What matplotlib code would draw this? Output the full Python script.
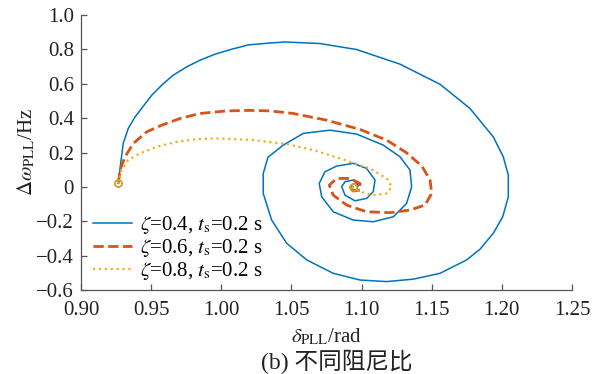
import matplotlib
matplotlib.use('Agg')
import matplotlib.pyplot as plt
from matplotlib.ticker import FuncFormatter, MultipleLocator

plt.rcParams['font.family'] = ['Liberation Serif', 'Noto Sans CJK SC']
plt.rcParams['mathtext.fontset'] = 'stix'
plt.rcParams['axes.unicode_minus'] = True

# zeta = 0.4 trajectory (delta_PLL [rad], delta_omega_PLL [Hz])
z04_x = [0.9266, 0.9283, 0.9301, 0.9337, 0.9385, 0.9440, 0.9504, 0.9587, 0.9658, 0.9753,
         0.9848, 0.9955, 1.0074, 1.0192, 1.0347, 1.0454, 1.0703, 1.0965, 1.1274, 1.1559,
         1.1773, 1.1939, 1.2010, 1.2046, 1.2046, 1.2006, 1.1939, 1.1844, 1.1749, 1.1559,
         1.1368, 1.1179, 1.0989, 1.0798, 1.0609, 1.0466, 1.0359, 1.0299, 1.0299, 1.0333,
         1.0442, 1.0584, 1.0775, 1.0965, 1.1155, 1.1274, 1.1345, 1.1357, 1.1321, 1.1226,
         1.1083, 1.0941, 1.0798, 1.0716, 1.0698, 1.0739, 1.0822, 1.0941, 1.1036, 1.1096,
         1.1083, 1.1036, 1.0953, 1.0882, 1.0858, 1.0882, 1.0941, 1.0976, 1.0965, 1.0932,
         1.0924, 1.0939]
z04_y = [0.020, 0.137, 0.253, 0.340, 0.407, 0.465, 0.533, 0.601, 0.650, 0.698,
         0.737, 0.772, 0.801, 0.826, 0.837, 0.843, 0.834, 0.799, 0.714, 0.597,
         0.456, 0.291, 0.175, 0.069, -0.058, -0.174, -0.270, -0.363, -0.425, -0.503,
         -0.537, -0.551, -0.542, -0.503, -0.425, -0.328, -0.193, -0.038, 0.078, 0.173,
         0.243, 0.311, 0.330, 0.307, 0.243, 0.175, 0.098, 0.001, -0.096, -0.174,
         -0.203, -0.193, -0.145, -0.058, 0.020, 0.088, 0.121, 0.137, 0.107, 0.040,
         -0.028, -0.067, -0.081, -0.048, 0.001, 0.030, 0.040, 0.010, -0.019, -0.013,
         0.005, 0.002]

# zeta = 0.6 trajectory
z06_x = [0.9266, 0.9278, 0.9314, 0.9373, 0.9468, 0.9575, 0.9706, 0.9848, 1.0038, 1.0205,
         1.0347, 1.0513, 1.0751, 1.0989, 1.1179, 1.1321, 1.1430, 1.1488, 1.1500, 1.1452,
         1.1345, 1.1203, 1.1036, 1.0894, 1.0798, 1.0770, 1.0823, 1.0917, 1.0989, 1.0989,
         1.0939, 1.0917, 1.0939]
z06_y = [0.020, 0.098, 0.175, 0.253, 0.320, 0.359, 0.398, 0.427, 0.442, 0.445,
         0.442, 0.427, 0.388, 0.334, 0.272, 0.198, 0.121, 0.040, -0.038, -0.106,
         -0.135, -0.150, -0.145, -0.106, -0.048, 0.010, 0.049, 0.049, 0.020, -0.019,
         -0.024, 0.000, 0.002]

# zeta = 0.8 trajectory
z08_x = [0.9266, 0.9290, 0.9337, 0.9421, 0.9540, 0.9682, 0.9825, 0.9955, 1.0086, 1.0228,
         1.0466, 1.0656, 1.0846, 1.1060, 1.1179, 1.1215, 1.1179, 1.1083, 1.0989, 1.0917,
         1.0939]
z08_y = [0.020, 0.098, 0.156, 0.195, 0.233, 0.262, 0.278, 0.282, 0.278, 0.272,
         0.249, 0.214, 0.166, 0.107, 0.049, 0.001, -0.038, -0.048, -0.028, 0.001,
         0.002]

labels = [r'$\zeta$=0.4, $t_{\rm s}$=0.2 s',
          r'$\zeta$=0.6, $t_{\rm s}$=0.2 s',
          r'$\zeta$=0.8, $t_{\rm s}$=0.2 s']
colors = ['#0072BD', '#D95319', '#EDB120']
styles = ['-', '--', ':']
widths = [1.1, 2.0, 1.6]

FS = 15

fig = plt.figure(figsize=(6.01, 3.74), dpi=100)
ax = fig.add_axes([81/601, 1-290/374, 491/601, 275/374])

series = [(z04_x, z04_y), (z06_x, z06_y), (z08_x, z08_y)]
for (xs, ys), lab, c, ls, lw in zip(series, labels, colors, styles, widths):
    ax.plot(xs, ys, ls=ls, color=c, lw=lw, label=lab)
for (xs, ys), c in zip(series, colors):
    ax.plot([xs[0], xs[-1]], [ys[0], ys[-1]], 'o', mfc='none', mec=c, ms=5, mew=0.9)

ax.set_xlim(0.90, 1.25)
ax.set_ylim(-0.6, 1.0)
ax.xaxis.set_major_locator(MultipleLocator(0.05))
ax.yaxis.set_major_locator(MultipleLocator(0.2))
ax.xaxis.set_major_formatter(FuncFormatter(lambda v, p: f'{v:.2f}'))
ax.yaxis.set_major_formatter(FuncFormatter(lambda v, p: '0' if abs(v) < 1e-9 else f'{v:.1f}'.replace('-', '\u2212')))

for s in ['top', 'right']:
    ax.spines[s].set_visible(False)
for s in ['left', 'bottom']:
    ax.spines[s].set_color('#555555')
    ax.spines[s].set_linewidth(0.9)
ax.tick_params(direction='in', length=4, width=0.9, color='#555555',
               labelsize=FS, labelcolor='#222222')
ax.tick_params(axis='x', pad=8)
ax.tick_params(axis='y', pad=5)

ax.set_xlabel(r'$\delta_{\rm PLL}$/rad', fontsize=FS, labelpad=5, color='#222222')
ax.set_ylabel(r'$\Delta\omega_{\rm PLL}$/Hz', fontsize=FS, labelpad=-1, color='#222222')

leg = ax.legend(loc='lower left', bbox_to_anchor=(0.011, 0.005), frameon=False,
                fontsize=FS, handlelength=1.9, handletextpad=0.35,
                labelspacing=0.06, borderpad=0.3, borderaxespad=0.0)

fig.text(337/601, 1-362/374, '(b) 不同阻尼比', ha='center', va='center',
         fontsize=17, color='#222222',
         family=['Liberation Serif', 'Noto Sans CJK SC'])

fig.savefig('out.png', dpi=100)
